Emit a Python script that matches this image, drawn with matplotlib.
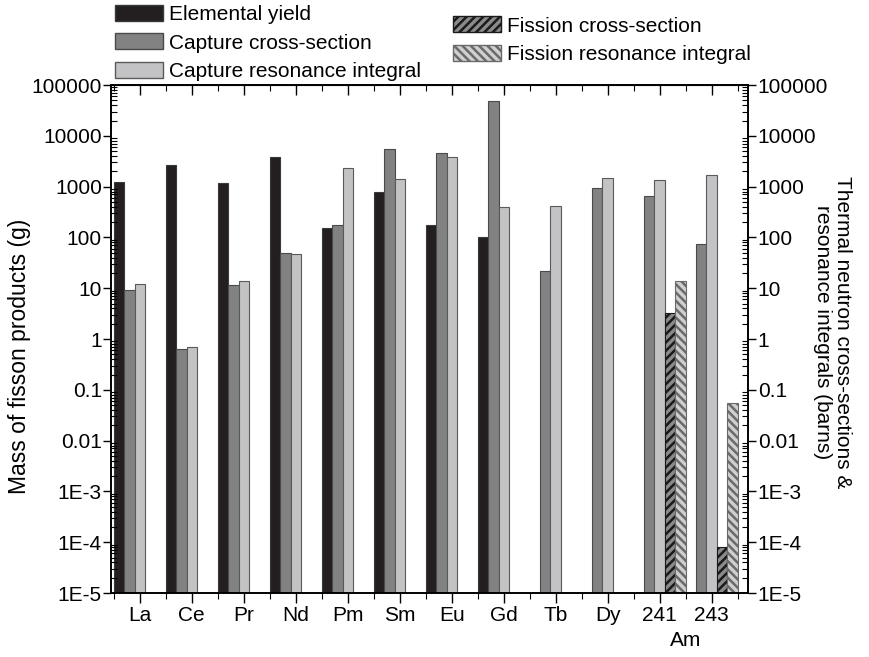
import numpy as np
import matplotlib as mpl
mpl.use('Agg')
import matplotlib.pyplot as plt
from matplotlib.patches import Patch
from matplotlib.ticker import LogLocator, FixedLocator, NullFormatter

plt.rcParams['font.family'] = ['Liberation Sans', 'DejaVu Sans']
plt.rcParams['hatch.linewidth'] = 1.8

# categories (x tick labels)
elements = ['La', 'Ce', 'Pr', 'Nd', 'Pm', 'Sm', 'Eu', 'Gd', 'Tb', 'Dy', '241', '243']

# values (None = no bar)
elemental_yield = [1250, 2700, 1180, 3900, 155, 800, 176, 100, None, None, None, None]
capture_cs = [9.1, 0.65, 11.5, 49, 175, 5600, 4600, 49000, 22, 930, 640, 75]
capture_ri = [12, 0.7, 14, 48, 2300, 1400, 3800, 390, 420, 1450, 1350, 1730]
fission_cs = [None] * 10 + [3.2, 8e-5]
fission_ri = [None] * 10 + [14, 0.056]

ytick_vals = [1e5, 1e4, 1e3, 1e2, 1e1, 1, 0.1, 0.01, 1e-3, 1e-4, 1e-5]
ytick_labels = ['100000', '10000', '1000', '100', '10', '1', '0.1', '0.01',
                '1E-3', '1E-4', '1E-5']

FS = 15
BASE = 1e-5


def draw_series(ax, x, vals, **kw):
    xs = [xi for xi, v in zip(x, vals) if v is not None]
    hs = [v - BASE for v in vals if v is not None]
    ax.bar(xs, hs, width=0.2, bottom=BASE, **kw)


fig = plt.figure(figsize=(8.69, 6.57), dpi=100)
ax = fig.add_axes([0.1283, 0.0974, 0.7325, 0.7732])
x = np.arange(len(elements))

draw_series(ax, x - 0.4, elemental_yield, color='#231f20', edgecolor='#3a3a3a', linewidth=0.8)
draw_series(ax, x - 0.2, capture_cs, color='#828282', edgecolor='#4a4a4a', linewidth=0.8)
draw_series(ax, x, capture_ri, color='#c3c3c5', edgecolor='#5a5a5a', linewidth=0.8)
draw_series(ax, x + 0.2, fission_cs, color='#8a8a8a', edgecolor='#1a1a1a', hatch='////', linewidth=0.8)
draw_series(ax, x + 0.4, fission_ri, color='#cfcfcf', edgecolor='#6a6a6a', hatch='\\\\\\\\', linewidth=0.8)

ax.set_yscale('log')
ax.set_ylim(1e-5, 1e5)
ax.set_xlim(-0.545, 11.70)

ax.set_yticks(ytick_vals)
ax.set_yticklabels(ytick_labels, fontsize=FS)
ax.yaxis.set_minor_locator(LogLocator(base=10, subs=np.arange(2, 10), numticks=30))
ax.yaxis.set_minor_formatter(NullFormatter())
ax.tick_params(axis='y', which='major', direction='out', length=6, width=1, pad=1)
ax.tick_params(axis='y', which='minor', direction='in', length=4, width=0.8)

ax.set_xticks(x)
ax.set_xticklabels(elements, fontsize=FS)
ax.xaxis.set_minor_locator(FixedLocator(np.arange(-0.5, 12, 1.0)))
ax.tick_params(axis='x', which='major', direction='out', length=7, width=1, pad=2)
ax.tick_params(axis='x', which='minor', direction='out', length=4, width=0.8)

# mirrored top ticks pointing inward
top = ax.secondary_xaxis('top')
top.set_xticks(x)
top.xaxis.set_minor_locator(FixedLocator(np.arange(-0.5, 12, 1.0)))
top.tick_params(axis='x', which='major', direction='in', length=7, width=1, labeltop=False)
top.tick_params(axis='x', which='minor', direction='in', length=4, width=0.8)

# right axis with the same scale
ax2 = ax.twinx()
ax2.set_yscale('log')
ax2.set_ylim(1e-5, 1e5)
ax2.set_yticks(ytick_vals)
ax2.set_yticklabels(ytick_labels, fontsize=FS)
ax2.yaxis.set_minor_locator(LogLocator(base=10, subs=np.arange(2, 10), numticks=30))
ax2.yaxis.set_minor_formatter(NullFormatter())
ax2.tick_params(axis='y', which='major', direction='out', length=6, width=1, pad=1)
ax2.tick_params(axis='y', which='minor', direction='in', length=4, width=0.8)

for a in (ax, ax2):
    for s in a.spines.values():
        s.set_linewidth(1.2)

fig.text(0.023, 0.457, 'Mass of fisson products (g)', fontsize=16.5,
         rotation=90, ha='center', va='center')
fig.text(0.958, 0.495, 'Thermal neutron cross-sections &\nresonance integrals (barns)',
         fontsize=FS, rotation=270, ha='center', va='center', linespacing=1.05)

ax.text(10.5, -0.075, 'Am', transform=ax.get_xaxis_transform(),
        ha='center', va='top', fontsize=FS)

h1 = [Patch(facecolor='#231f20', edgecolor='#3a3a3a', label='Elemental yield'),
      Patch(facecolor='#828282', edgecolor='#4a4a4a', label='Capture cross-section'),
      Patch(facecolor='#c3c3c5', edgecolor='#5a5a5a', label='Capture resonance integral')]
h2 = [Patch(facecolor='#8a8a8a', edgecolor='#1a1a1a', hatch='////', label='Fission cross-section'),
      Patch(facecolor='#cfcfcf', edgecolor='#6a6a6a', hatch='\\\\\\\\', label='Fission resonance integral')]

leg_kw = dict(frameon=False, fontsize=FS, handlelength=2.3, handleheight=0.8,
              handletextpad=0.3, labelspacing=0.43, borderpad=0, borderaxespad=0)
fig.legend(handles=h1, loc='upper left', bbox_to_anchor=(0.132, 0.992), **leg_kw)
fig.legend(handles=h2, loc='upper left', bbox_to_anchor=(0.521, 0.975), **leg_kw)

fig.savefig('out.png', dpi=100)
